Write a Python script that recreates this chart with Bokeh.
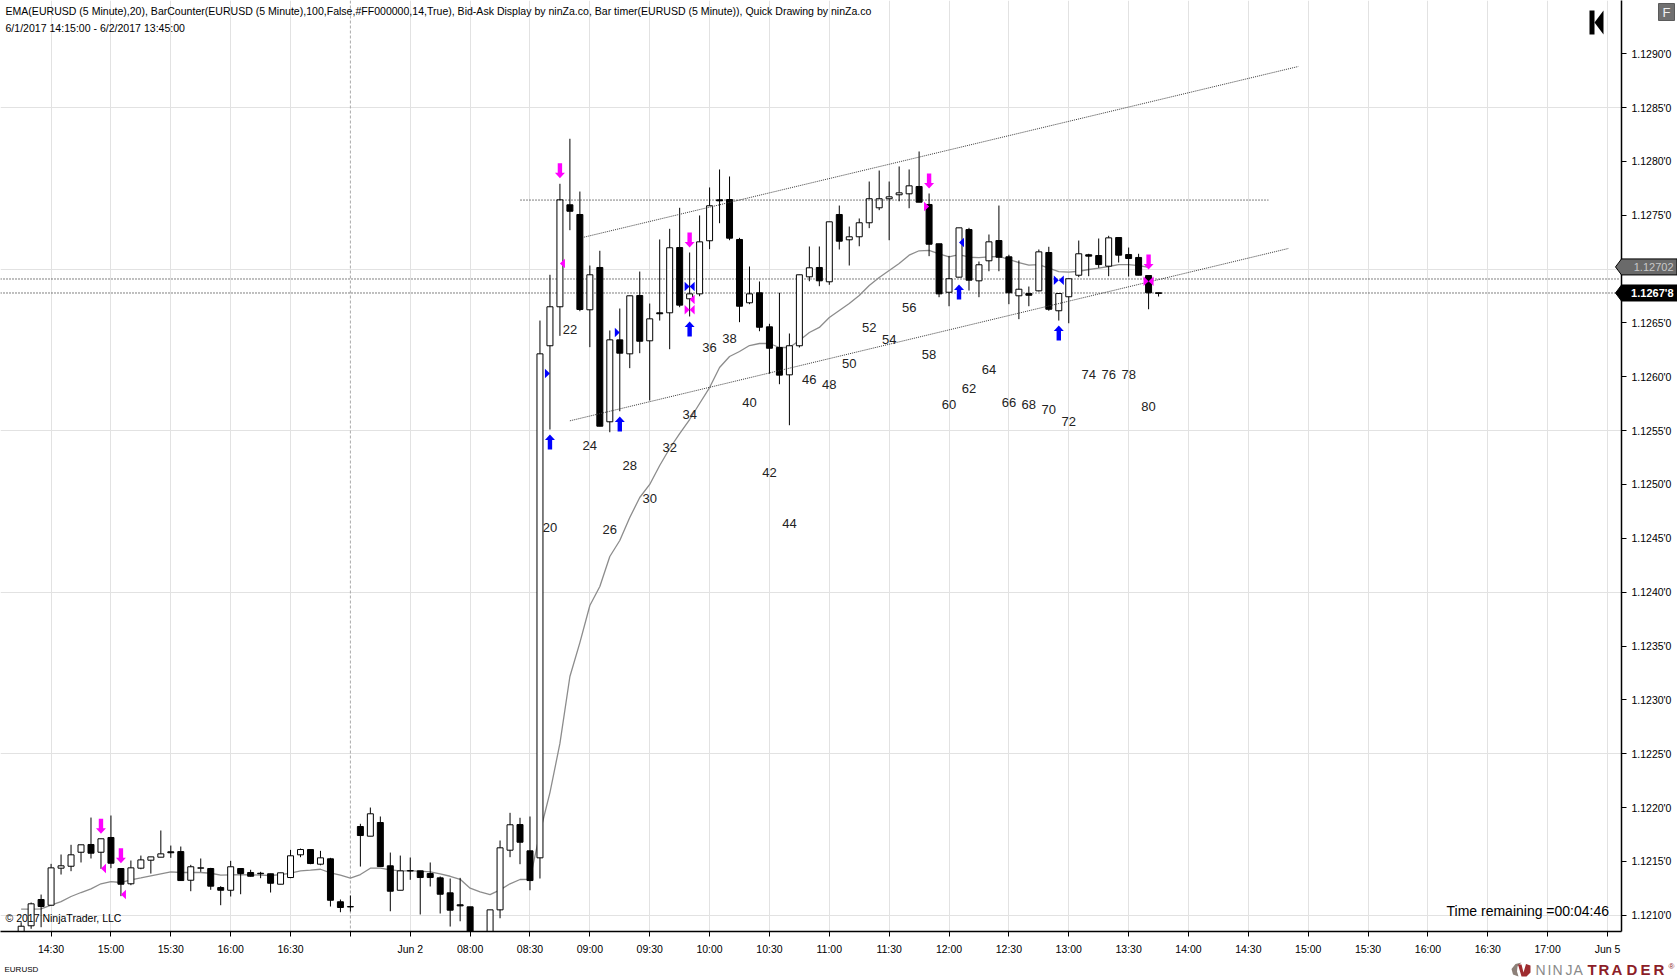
from bokeh.plotting import figure
from bokeh.layouts import column
from bokeh.embed import file_html
from bokeh.resources import INLINE
from bokeh.models import Range1d, FixedTicker, Label, PolyAnnotation, ColumnDataSource, Span
from bokeh.core.properties import value

# ---------- data: prices are given as points (1e-5) above 1.12000 ----------
BASE = 1.12
first_bar = -33
highs = [93.5,111.8,119.2,147.7,156.4,165.4,165.4,190.7,171.0,192.6,
 143.4,150.8,155.4,154.2,178.7,164.7,163.8,146.8,152.7,144.0,
 127.0,150.5,143.4,142.2,140.3,138.5,139.4,160.7,161.9,161.0,
 159.8,153.3,114.6,118.3,184.9,200.0,191.7,158.2,155.4,153.6,141.2,149.0,136.0,
 134.1,134.7,107.8,83.0,105.0,169.4,195.1,190.5,191.7,652.2,
 694.7,779.2,821.0,772.0,703.3,717.0,643.0,663.4,675.2,697.7,
 668.0,727.5,737.4,756.9,715.4,749.8,775.8,792.5,786.0,729.0,
 702.4,688.5,649.2,678.0,640.2,694.7,721.0,721.0,743.9,759.0,
 739.5,747.0,781.3,791.5,781.3,795.3,792.5,809.2,770.2,723.5,
 712.3,738.3,738.3,707.0,732.1,759.0,713.3,708.0,683.8,718.2,
 720.7,677.3,691.0,726.5,714.2,728.4,730.9,729.3,720.0,714.2,694.0,678.0]
lows = [81.2,87.4,88.9,109.3,137.8,140.9,149.0,152.7,143.1,143.7,
 117.7,127.9,142.7,138.7,153.9,153.3,132.2,122.3,140.3,123.6,
 109.3,117.4,119.5,136.0,134.4,121.1,128.8,134.4,153.9,147.4,
 146.4,108.1,102.8,103.5,145.2,173.4,145.2,103.7,123.2,132.9,100.7,126.7,101.6,
 89.5,94.4,76.5,67.2,76.5,97.2,153.9,147.4,123.2,134.1,
 551.0,638.0,736.1,660.9,627.5,554.1,548.5,568.0,608.0,621.9,
 578.0,652.2,625.6,664.6,656.0,674.8,718.5,742.6,726.8,650.7,
 667.4,642.3,602.8,593.1,555.0,627.2,688.7,684.1,685.4,718.2,
 703.3,721.2,738.0,754.7,726.8,763.0,756.5,762.1,712.0,673.9,
 665.5,692.2,680.1,673.9,698.0,698.0,667.4,653.5,665.5,679.2,
 661.3,652.2,649.7,692.5,693.4,701.2,693.4,706.1,693.1,694.3,662.7,674.5]
opens = [83.0,90.2,114.6,109.3,143.7,145.5,158.5,165.7,158.5,172.2,
 143.4,129.2,143.7,151.1,153.9,158.9,159.1,132.5,143.7,143.4,
 125.7,123.2,143.4,139.7,139.0,138.5,128.8,135.0,156.1,161.0,
 147.4,152.4,112.5,107.7,182.4,173.4,186.1,145.9,123.2,141.1,141.2,138.7,134.7,
 120.8,109.7,107.8,80.2,81.2,105.0,160.4,184.2,159.8,153.3,
 628.8,665.0,759.7,750.7,662.2,701.5,558.2,634.3,621.3,675.5,
 633.4,659.4,659.4,720.0,672.4,677.0,726.3,764.3,764.6,727.5,
 668.7,678.0,646.4,627.2,601.8,628.8,692.8,701.5,688.2,750.7,
 727.2,730.0,743.0,756.9,765.3,769.0,769.9,776.7,760.0,723.5,
 678.5,692.5,736.7,689.1,707.7,726.5,711.4,675.2,677.3,679.8,
 715.4,661.3,674.3,694.3,713.3,712.6,702.7,729.3,713.5,710.8,694.0,678.0]
closes = [89.8,110.6,108.1,144.0,145.9,156.1,165.4,157.6,171.0,148.3,
 128.8,144.0,151.4,154.2,157.0,158.0,132.2,145.0,144.0,127.0,
 123.2,145.0,138.7,136.2,138.5,129.7,139.4,155.2,161.0,148.0,
 153.3,113.9,107.2,108.1,174.0,194.2,145.2,122.3,141.2,141.5,135.0,135.0,119.5,
 104.7,108.7,81.2,71.9,105.0,162.6,184.0,167.8,132.2,621.3,
 665.0,764.3,753.7,662.5,694.7,554.1,634.3,621.9,675.2,633.0,
 653.8,658.5,719.8,666.5,677.0,725.3,758.8,763.4,728.7,665.5,
 677.0,646.0,626.5,601.5,628.8,694.7,701.2,689.1,743.9,725.9,
 730.0,743.0,765.3,765.3,767.1,770.8,777.3,762.1,723.1,677.0,
 691.0,738.3,689.7,704.0,725.3,711.0,678.0,681.3,675.7,716.0,
 662.7,677.3,691.0,714.2,712.0,704.2,729.0,712.9,709.8,694.3,678.0,677.4]
ema_first_bar = -33
ema = [105.6,105.6,106.0,109.3,112.7,117.4,121.1,124.5,129.2,131.3,
 130.4,132.9,134.7,136.6,138.5,140.3,139.7,139.7,139.7,139.0,
 137.2,137.5,137.8,137.5,137.2,136.9,137.8,139.0,141.2,141.8,
 142.7,139.4,137.2,134.4,137.8,143.7,143.7,142.2,141.2,141.2,140.9,140.3,138.5,
 136.2,133.4,125.1,121.7,119.2,123.6,129.2,133.2,133.4,176.8,
 213.9,259.5,321.7,353.2,387.6,405.2,433.1,448.0,469.3,487.9,
 500.0,517.6,533.4,547.3,560.3,575.2,590.0,608.6,618.8,623.5,
 629.0,630.9,630.9,627.2,627.2,633.7,641.1,645.8,655.0,661.5,
 668.0,675.5,684.7,692.2,698.7,705.2,712.9,717.0,717.3,714.2,
 711.4,713.5,711.0,710.7,711.4,711.7,708.9,706.1,703.6,704.2,
 700.8,697.7,697.1,698.0,699.6,700.8,702.4,704.2,704.2,703.3,701.7]

counter_bars = list(range(20, 82, 2))
counter_pts = [460.0,644.2,536.2,458.2,517.6,487.0,534.3,565.0,626.9,635.3,575.8,511.1,463.7,
 597.2,593.1,612.0,646.0,634.9,664.6,620.7,574.2,589.1,606.7,576.1,574.2,569.6,558.5,
 602.1,602.1,602.1,572.4]

down_arrows = [(-25,175.6),(-23,148.3),(21,784.4),(34,720.0),(58,774.8),(80,699.6)]
up_arrows = [(20,546.4),(27,563.1),(34,651.3),(61,685.7),(71,647.6)]
magenta_left = [(-25,143.4),(-23,119.2),(21,705.2),(34,671.7),(34,662.2),(80,688.7)]
magenta_right = [(58,758.1),(34,662.2),(80,688.7)]
blue_left = [(61,724.7),(34,683.8),(71,689.7)]
blue_right = [(20,603.0),(27,641.1),(34,683.8),(71,689.7)]

channel_top = ([23.4,95.0],[729.6,888.1])
channel_bottom = ([22.0,94.0],[559.1,719.1])
level_line = ([17.05,92.0],[764.1,764.1])
ask_pts = 690.8
last_pts = 677.8
ema_last_pts = 702.0
ema_last = "1.12702"
last_text = "1.1267'8"

time_bars = list(range(-30, 127, 6))
time_labels = ["14:30","15:00","15:30","16:00","16:30","","Jun 2","08:00","08:30","09:00","09:30",
 "10:00","10:30","11:00","11:30","12:00","12:30","13:00","13:30","14:00","14:30","15:00","15:30",
 "16:00","16:30","17:00","Jun 5"]
price_ticks = [1.1210 + 0.0005*k for k in range(17)]
price_labels = ["1.%04d'0" % (round(t*10000)-10000) for t in price_ticks]
grid_prices = [1.1210, 1.1225, 1.1240, 1.1255, 1.1270, 1.1285]

title_1 = "EMA(EURUSD (5 Minute),20), BarCounter(EURUSD (5 Minute),100,False,#FF000000,14,True), Bid-Ask Display by ninZa.co, Bar timer(EURUSD (5 Minute)), Quick Drawing by ninZa.co"
title_2 = "6/1/2017 14:15:00 - 6/2/2017 13:45:00"

# ---------- scales ----------
FW, FH = 1621, 931
X0, X1 = -35.07, 127.4
Y0, Y1 = 1.120849, 1.129494
def pr(u): return BASE + u*1e-5
def X(px): return X0 + px*(X1-X0)/FW
def Y(py): return Y1 - py*(Y1-Y0)/FH
BX = (X1-X0)/FW   # bars per pixel
PY = (Y1-Y0)/FH   # price per pixel
def price_py(u): return (Y1-pr(u))/PY

p = figure(width=1677, height=978, frame_width=FW, frame_height=FH, x_range=Range1d(X0,X1), y_range=Range1d(Y0,Y1),
           output_backend="svg", toolbar_location=None, y_axis_location="right",
           min_border_left=0, min_border_top=0, min_border_right=56, min_border_bottom=47)
p.outline_line_color = None
p.background_fill_color = "white"
p.border_fill_color = "white"

FONT = "Liberation Sans"
p.xaxis.ticker = FixedTicker(ticks=time_bars)
p.xaxis.major_label_overrides = {b:l for b,l in zip(time_bars,time_labels)}
p.yaxis.ticker = FixedTicker(ticks=price_ticks)
p.yaxis.major_label_overrides = {t:l for t,l in zip(price_ticks,price_labels)}
for ax, st in ((p.xaxis,6),(p.yaxis,5)):
    ax.axis_line_color="black"; ax.axis_line_width=1.5
    ax.major_tick_line_color="black"; ax.major_tick_line_width=1
    ax.major_tick_out=5; ax.major_tick_in=0
    ax.minor_tick_line_color=None
    ax.major_label_text_font=FONT; ax.major_label_text_font_size="10.5px"
    ax.major_label_text_color="black"
    ax.major_label_standoff=st
p.xgrid.ticker = FixedTicker(ticks=[b for b in time_bars if b != 0])
p.ygrid.ticker = FixedTicker(ticks=grid_prices)
p.xgrid.grid_line_color = "#E2E2E2"
p.ygrid.grid_line_color = "#E2E2E2"
p.xgrid.grid_line_width = 1
p.ygrid.grid_line_width = 1
p.add_layout(Span(location=0, dimension="height", line_color="#ABABAB", line_width=1, line_dash="3 2", level="underlay"))

# ask / last dotted lines beneath the candles
p.segment(x0=[X(0),X(0)], x1=[X(1618),X(1618)], y0=[pr(ask_pts),pr(last_pts)], y1=[pr(ask_pts),pr(last_pts)],
          line_color="black", line_width=1, line_dash="1 2")

# EMA
ema_x = [ema_first_bar+k for k in range(len(ema))]
p.line(ema_x, [pr(u) for u in ema], line_color="#8C8C8C", line_width=1.3)

# candles
bars = [first_bar+k for k in range(len(highs))]
src = ColumnDataSource(dict(
    x=bars, hi=[pr(u) for u in highs], lo=[pr(u) for u in lows],
    top=[pr(max(o,c)) for o,c in zip(opens,closes)],
    bot=[pr(min(o,c)) for o,c in zip(opens,closes)],
    fill=["white" if c>=o else "black" for o,c in zip(opens,closes)]))
p.segment(x0="x", x1="x", y0="lo", y1="hi", source=src, line_color="black", line_width=1)
p.vbar(x="x", width=0.6, top="top", bottom="bot", fill_color="fill", line_color="black", line_width=1, source=src)

# trend lines
for xs, ys in (channel_top, channel_bottom):
    p.line(xs, [pr(u) for u in ys], line_color="#3C3C3C", line_width=1, line_dash="1 1")
p.line(level_line[0], [pr(u) for u in level_line[1]], line_color="black", line_width=1, line_dash="1 2")

# arrows
def arrow(b, u, direction):
    tip = pr(u); s = direction   # s=+1: shaft rises above the tip (down arrow); s=-1: up arrow
    hw, sw, hl, L = 5*BX, 2.2*BX, 5.5*PY, 15*PY
    return ([b, b-hw, b-sw, b-sw, b+sw, b+sw, b+hw],
            [tip, tip+s*hl, tip+s*hl, tip+s*L, tip+s*L, tip+s*hl, tip+s*hl])
def arrows(items, s, color):
    polys = [arrow(b,u,s) for b,u in items]
    p.patches([q[0] for q in polys],[q[1] for q in polys], fill_color=color, line_color=None)
arrows(down_arrows, 1, "#FF00FF")
arrows(up_arrows, -1, "#0000FF")

# small triangles: the apex sits on the bar, the base 5 px to one side
def tris(items, s, color):
    xs=[[b, b+s*5*BX, b+s*5*BX] for b,_ in items]
    ys=[[pr(u), pr(u)+4.8*PY, pr(u)-4.8*PY] for _,u in items]
    p.patches(xs, ys, fill_color=color, line_color=None)
tris(magenta_left, 1, "#FF00FF")
tris(magenta_right, -1, "#FF00FF")
tris(blue_left, 1, "#0000FF")
tris(blue_right, -1, "#0000FF")

# bar counter
p.text(x=counter_bars, y=[pr(u) for u in counter_pts], text=[str(b) for b in counter_bars],
       text_font=value(FONT), text_font_size="13px", text_color="#222222",
       text_align="center", text_baseline="middle")

def label(px, py, text, size):
    p.add_layout(Label(x=X(px), y=Y(py), text=text, text_font=FONT, text_font_size=size, text_color="black",
                       text_align="left", text_baseline="middle"))
label(5, 10.2, title_1, "10.55px")
label(5, 27.2, title_2, "10.55px")
label(5, 917, "© 2017 NinjaTrader, LLC", "10.5px")
label(1446, 910, "Time remaining =00:04:46", "14px")

# skip-to-start icon
for pts in ([(1589,10),(1594,10),(1594,34),(1589,34)], [(1594,22),(1603,10),(1603,34)]):
    p.add_layout(PolyAnnotation(xs=[X(a) for a,_ in pts], ys=[Y(b) for _,b in pts], fill_color="black", fill_alpha=1,
                                line_color=None, editable=False))

# ---------- transparent top layer for what sits outside the plot frame ----------
o = figure(width=1677, height=978, frame_width=1677, frame_height=978, x_range=Range1d(0,1677), y_range=Range1d(978,0),
           output_backend="svg", toolbar_location=None, x_axis_type=None, y_axis_type=None,
           min_border_left=0, min_border_top=0, min_border_right=0, min_border_bottom=0,
           margin=(-978,0,0,0))
o.outline_line_color = None
o.background_fill_color = None
o.border_fill_color = None
o.grid.visible = False

def otext(px, py, text, size, color="black", align="left", style="normal"):
    o.text(x=[px], y=[py], text=[text], text_font=value(FONT), text_font_size=size, text_color=color,
           text_align=align, text_baseline="middle", text_font_style=style)
def opoly(pts, fill, line=None):
    o.patch([a for a,_ in pts], [b for _,b in pts], fill_color=fill, line_color=line, line_width=1)

otext(4, 968.5, "EURUSD", "8px")

# F button
opoly([(1658,3),(1674,3),(1674,20),(1658,20)], "#707070", "#5a5a5a")
otext(1666, 11.5, "F", "13px", "#F0F0F0", "center")

# price tags
def tag(py, fill, text, tcolor, style):
    opoly([(1615,py),(1621,py-8),(1676.5,py-8),(1676.5,py+8),(1621,py+8)], fill, "black")
    otext(1673, py+0.2, text, "11px", tcolor, "right", style)
tag(price_py(ema_last_pts), "#6A6A6A", ema_last, "#C8C8C8", "normal")
tag(price_py(last_pts), "black", last_text, "white", "bold")

# NinjaTrader logo
opoly([(1521,962),(1515,963.5),(1511,968.5),(1512.5,974),(1518,976),(1516.5,971),(1517,966)], "#8C8078")
opoly([(1517.5,964),(1521,964),(1523,972),(1525.5,963.5),(1530,965),(1530,972),(1526,976),(1521,976)], "#9E2B2F")
ninja = [("N",1535),("I",1547),("N",1552),("J",1565),("A",1573)]
trader = [("T",1587),("R",1598),("A",1611),("D",1626),("E",1640),("R",1653)]
for ch, px in ninja:
    otext(px, 969, ch, "14px", "#8A8A8A")
for ch, px in trader:
    otext(px, 969, ch, "15px", "#8C1E28", style="bold")
otext(1668, 966, "®", "8px", "#8C1E28")

page = column(p, o, width=1677, height=978, spacing=0)
page.styles = {"position":"absolute","left":"0px","top":"0px"}
open("out.html", "w").write(file_html(page, INLINE))
